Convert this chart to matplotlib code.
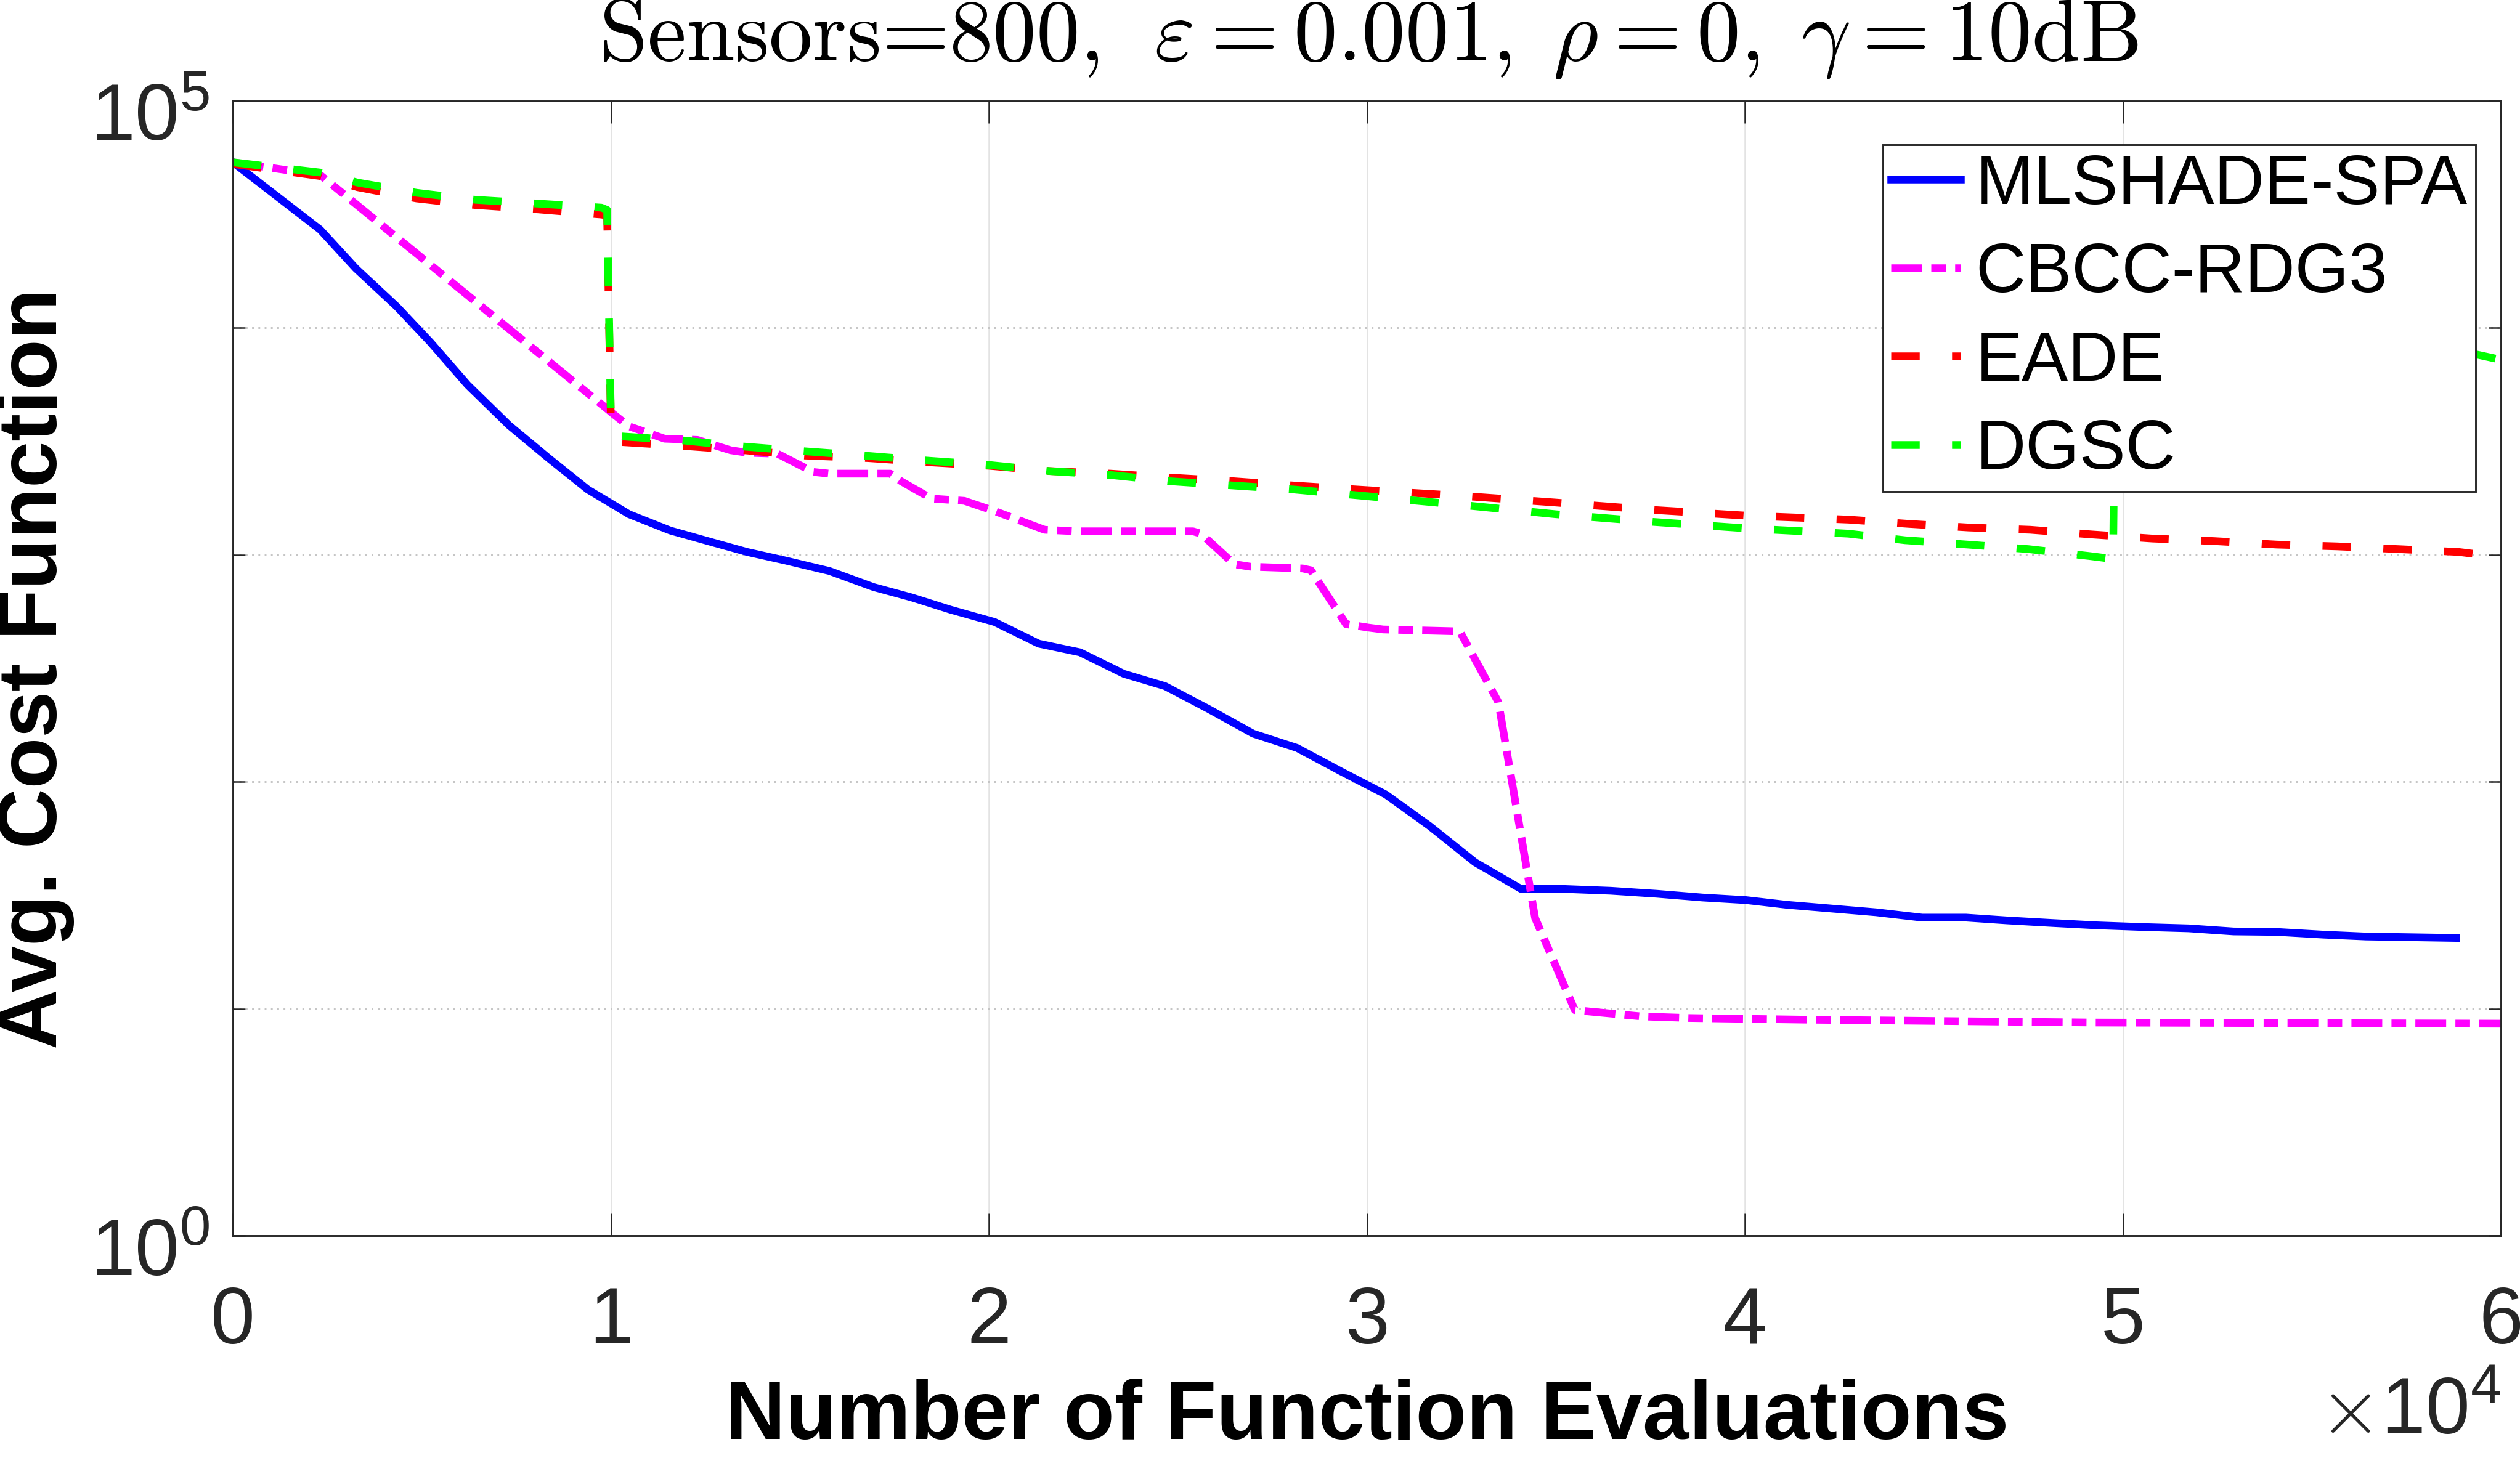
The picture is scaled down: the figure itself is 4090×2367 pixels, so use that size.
import matplotlib
matplotlib.use('Agg')
import matplotlib.pyplot as plt
from matplotlib.ticker import FixedLocator, NullFormatter, FuncFormatter, LogFormatterMathtext
from matplotlib.transforms import ScaledTranslation

plt.rcParams['mathtext.fontset'] = 'cm'
plt.rcParams['font.family'] = ['Liberation Sans', 'DejaVu Sans']

# MLSHADE-SPA
evals_mlshade = [0, 2310, 3250, 4340, 5230, 6210, 7300, 8350, 9390, 10480, 11570, 12730, 13600,
                 14620, 15780, 16950, 17960, 18990, 20150, 21320, 22410, 23570, 24660, 25820,
                 26990, 28150, 29320, 30500, 31660, 32860, 34080, 35230, 36450, 37670, 38880,
                 40030, 41110, 43470, 44690, 45850, 46930, 48060, 49310, 50550, 51740, 52930,
                 54060, 55310, 56430, 58810]
cost_mlshade = [53700, 27100, 18300, 12400, 8630, 5610, 3730, 2670, 1940, 1510, 1280, 1130, 1030,
                944, 849, 721, 649, 573, 506, 406, 372, 299, 264, 209,
                163, 141, 111, 87.9, 63.8, 44.2, 33.7, 33.7, 33.1, 32.1, 30.9,
                30.1, 28.7, 26.6, 25.2, 25.2, 24.5, 23.9, 23.3, 22.9, 22.6, 21.9,
                21.8, 21.2, 20.8, 20.5]

# CBCC-RDG3
evals_cbcc = [0, 2310, 10060, 10470, 11420, 12290, 13170, 13600, 14410, 15350, 15780, 17390,
              17680, 18480, 19350, 20150, 21470, 22340, 25400, 25610, 26490, 26910, 28300,
              28520, 29450, 30040, 30430, 32460, 33480, 34450, 35500, 37260, 38550, 41580,
              49260, 60000]
cost_cbcc = [53700, 47200, 4180, 3690, 3250, 3210, 2890, 2820, 2790, 2320, 2280, 2280,
             2110, 1770, 1730, 1560, 1290, 1270, 1270, 1240, 910, 887, 871,
             855, 495, 478, 469, 460, 224, 25.1, 9.86, 9.25, 9.10, 8.95,
             8.69, 8.59]

# EADE
evals_eade = [0, 2310, 3300, 4860, 6420, 8080, 9750, 9900, 10000, 10300, 11930, 13530, 15130,
              16800, 18400, 20000, 21610, 23210, 24810, 26490, 28080, 29750, 32500, 35000,
              37500, 40000, 42740, 44320, 45920, 47550, 49180, 50780, 52420, 54070, 55660,
              57290, 58880, 60000]
cost_eade = [52800, 46700, 41700, 37200, 34800, 33300, 31600, 31300, 3800, 3140, 3020, 2890, 2740,
             2670, 2560, 2470, 2340, 2280, 2190, 2110, 2020, 1940, 1820, 1700,
             1580, 1490, 1430, 1370, 1320, 1290, 1230, 1180, 1150, 1110, 1090,
             1060, 1030, 977]

# DGSC
evals_dgsc = [0, 2310, 3300, 4860, 6420, 8080, 9750, 9900, 10000, 10250, 11930, 13530, 15130,
              16800, 18400, 20000, 21610, 23210, 24810, 26490, 28080, 29750, 32500, 35000,
              37500, 40000, 42740, 44240, 45890, 47500, 49100, 49740, 49800, 55000, 59300, 60000]
cost_dgsc = [53700, 48400, 43700, 39400, 36700, 35300, 33900, 33100, 3980, 3330, 3190, 3000, 2860,
             2730, 2600, 2490, 2340, 2250, 2110, 2020, 1940, 1830, 1660, 1510,
             1400, 1310, 1240, 1160, 1110, 1060, 989, 959, 8910, 8320, 7670, 7240]

fig = plt.figure(figsize=(4090 / 300, 2367 / 300), dpi=300)
ax = fig.add_axes([378 / 4090, 1 - 2006 / 2367, (4059 - 378) / 4090, (2006 - 164) / 2367])

lw = 3.0
ax.plot(evals_mlshade, cost_mlshade, color=(0, 0, 1), lw=lw, label='MLSHADE-SPA')
ax.plot(evals_cbcc, cost_cbcc, color=(1, 0, 1), lw=lw, linestyle='-.',
        dashes=(4.0, 1.2, 1.9, 1.2), label='CBCC-RDG3')
ax.plot(evals_eade, cost_eade, color=(1, 0, 0), lw=lw, linestyle='--',
        dashes=(3.7, 4.2), label='EADE')
ax.plot(evals_dgsc, cost_dgsc, color=(0, 1, 0), lw=lw, linestyle='--',
        dashes=(3.7, 4.2), label='DGSC')

ax.set_yscale('log')
ax.set_xlim(0, 60000)
ax.set_ylim(1, 1e5)

axis_col = '#262626'
ax.xaxis.set_major_locator(FixedLocator([0, 10000, 20000, 30000, 40000, 50000, 60000]))
ax.xaxis.set_major_formatter(FuncFormatter(lambda v, p: '%d' % round(v / 1e4)))
ax.yaxis.set_major_locator(FixedLocator([1, 1e5]))
ax.yaxis.set_major_formatter(LogFormatterMathtext())
ax.yaxis.set_minor_locator(FixedLocator([10, 100, 1e3, 1e4]))
ax.yaxis.set_minor_formatter(NullFormatter())
ax.xaxis.set_minor_locator(FixedLocator([]))

ax.tick_params(axis='both', which='both', direction='in', top=True, right=True,
               colors=axis_col, width=0.6, labelsize=31)
ax.tick_params(axis='x', which='major', length=8.6, pad=19.5)
ax.tick_params(axis='y', which='both', length=4.8, pad=9)
for s in ax.spines.values():
    s.set_color(axis_col)
    s.set_linewidth(0.7)

# MATLAB puts the exponent labels a bit lower than the tick
fig.canvas.draw()
shift = ScaledTranslation(0, -4 / 72, fig.dpi_scale_trans)
for lab in ax.get_yticklabels():
    lab.set_transform(lab.get_transform() + shift)

ax.grid(True, axis='x', which='major', color='#e3e3e3', lw=0.6)
ax.grid(True, axis='y', which='minor', color='#c4c4c4', lw=0.7, linestyle=(0, (1, 2.5)))
ax.set_axisbelow(True)

ax.set_xlabel('Number of Function Evaluations', fontsize=32.5, fontweight='bold')
ax.xaxis.set_label_coords(0.5, -0.126)
ax.set_ylabel('Avg. Cost Function', fontsize=32.5, fontweight='bold')
ax.yaxis.set_label_coords(-0.0698, 0.5)
ax.text(1.0, (2006 - 2328) / 1842, r'$\times\mathdefault{10^{4}}$', transform=ax.transAxes,
        ha='right', va='baseline', fontsize=31, color=axis_col)

ax.text(0.5007, (2006 - 98) / 1842,
        r'Sensors=800, $\;\varepsilon = 0.001,\;\rho = 0,\;\gamma = 10$dB',
        transform=ax.transAxes, ha='center', va='baseline', fontsize=34, fontfamily='cmr10')

leg = ax.legend(loc='upper right', bbox_to_anchor=(0.9889, 0.9614), fontsize=27,
                handlelength=1.0, handletextpad=0.22, labelspacing=0.333,
                borderpad=0.12, borderaxespad=0, fancybox=False, framealpha=1)
leg.get_frame().set_edgecolor(axis_col)
leg.get_frame().set_linewidth(0.7)

fig.savefig('out.png', dpi=300)
